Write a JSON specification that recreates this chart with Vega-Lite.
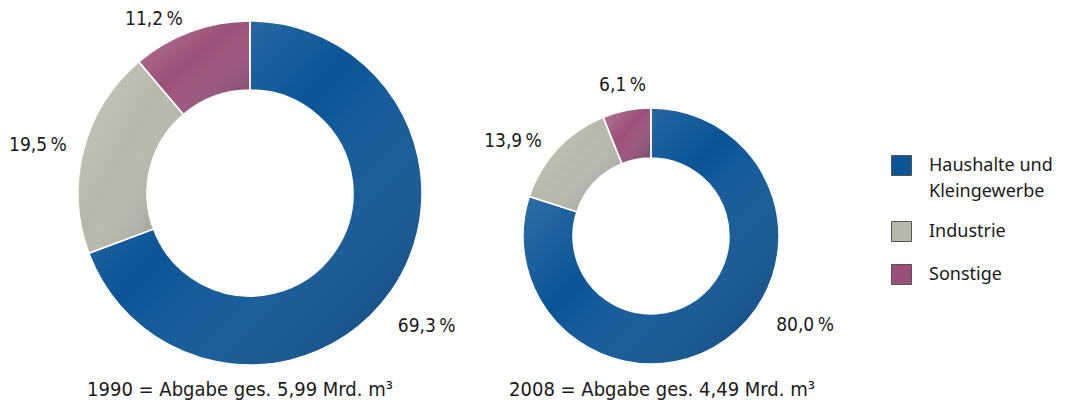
{
  "$schema": "https://vega.github.io/schema/vega-lite/v6.json",
  "width": 1065,
  "height": 407,
  "autosize": {"type": "none"},
  "padding": 0,
  "background": "white",
  "config": {"view": {"stroke": null}, "style": {"guide-label": {"lineHeight": 26}}},
  "datasets": {
    "anteile": [
      {"Jahr": "1990", "Sektor": "Haushalte und Kleingewerbe", "Anteil": 69.3, "Label": "69,3\u2009%"},
      {"Jahr": "1990", "Sektor": "Industrie", "Anteil": 19.5, "Label": "19,5\u2009%"},
      {"Jahr": "1990", "Sektor": "Sonstige", "Anteil": 11.2, "Label": "11,2\u2009%"},
      {"Jahr": "2008", "Sektor": "Haushalte und Kleingewerbe", "Anteil": 80.0, "Label": "80,0\u2009%"},
      {"Jahr": "2008", "Sektor": "Industrie", "Anteil": 13.9, "Label": "13,9\u2009%"},
      {"Jahr": "2008", "Sektor": "Sonstige", "Anteil": 6.1, "Label": "6,1\u2009%"}
    ],
    "abgabe": [
      {"Jahr": "1990", "Text": "1990 = Abgabe ges. 5,99 Mrd. m³"},
      {"Jahr": "2008", "Text": "2008 = Abgabe ges. 4,49 Mrd. m³"}
    ]
  },
  "encoding": {
    "x": {"field": "Jahr", "type": "nominal", "axis": null, "scale": {"type": "point", "domain": ["1990", "2008"], "range": [250, 651], "padding": 0}},
    "y": {"field": "Jahr", "type": "nominal", "axis": null, "scale": {"type": "point", "domain": ["1990", "2008"], "range": [193, 236], "padding": 0}}
  },
  "layer": [
    {
      "data": {"name": "anteile"},
      "transform": [{"filter": "datum.Jahr === '1990'"}],
      "mark": {"type": "arc", "innerRadius": 103, "outerRadius": 172},
      "encoding": {
        "theta": {"field": "Anteil", "type": "quantitative", "stack": true},
        "order": {"field": "Sektor", "type": "ordinal"},
        "color": {
          "field": "Sektor",
          "type": "nominal",
          "scale": {
            "domain": ["Haushalte und Kleingewerbe", "Industrie", "Sonstige"],
            "range": ["#0a5596", "#b8b8aa", "#9c5079"]
          },
          "legend": {
            "title": null,
            "orient": "none",
            "legendX": 891,
            "legendY": 155,
            "symbolType": "square",
            "symbolSize": 400,
            "symbolOpacity": 1,
            "symbolStrokeColor": "#555555",
            "symbolStrokeWidth": 1,
            "labelFont": "Noto Sans",
            "labelFontSize": 18,
            "labelColor": "#1a1a1a",
            "labelOffset": 17,
            "labelLimit": 300,
            "labelBaseline": "middle",
            "rowPadding": 18,
            "labelExpr": "datum.label === 'Haushalte und Kleingewerbe' ? ['Haushalte und', 'Kleingewerbe'] : datum.label"
          }
        }
      }
    },
    {
      "data": {"name": "anteile"},
      "transform": [{"filter": "datum.Jahr === '1990'"}],
      "mark": {
        "type": "arc", "innerRadius": 103, "outerRadius": 172, "stroke": "white", "strokeWidth": 1.5,
        "fill": {"gradient": "linear", "x1": 0, "y1": 0, "x2": 1, "y2": 1, "stops": [{"offset": 0, "color": "rgba(255,255,255,0.24)"}, {"offset": 0.45, "color": "rgba(255,255,255,0)"}, {"offset": 1, "color": "rgba(0,20,50,0.32)"}]}
      },
      "encoding": {
        "theta": {"field": "Anteil", "type": "quantitative", "stack": true},
        "detail": {"field": "Sektor", "type": "nominal"},
        "order": {"field": "Sektor", "type": "ordinal"}
      }
    },
    {
      "data": {"name": "anteile"},
      "transform": [{"filter": "datum.Jahr === '1990'"}],
      "mark": {
        "type": "text", "radius": 215, "align": "center", "baseline": "middle",
        "font": "DejaVu Sans Condensed, sans-serif", "fontSize": 19, "color": "#1a1a1a",
        "dx": {"expr": "datum.Sektor === 'Sonstige' ? -22 : datum.Sektor === 'Industrie' ? -4 : 0"},
        "dy": {"expr": "datum.Sektor === 'Sonstige' ? 28 : datum.Sektor === 'Industrie' ? 6 : 10"}
      },
      "encoding": {
        "theta": {"field": "Anteil", "type": "quantitative", "stack": true},
        "detail": {"field": "Sektor", "type": "nominal"},
        "order": {"field": "Sektor", "type": "ordinal"},
        "text": {"field": "Label", "type": "nominal"}
      }
    },
    {
      "data": {"name": "anteile"},
      "transform": [{"filter": "datum.Jahr === '2008'"}],
      "mark": {"type": "arc", "innerRadius": 78, "outerRadius": 128},
      "encoding": {
        "theta": {"field": "Anteil", "type": "quantitative", "stack": true},
        "order": {"field": "Sektor", "type": "ordinal"},
        "color": {"field": "Sektor", "type": "nominal"}
      }
    },
    {
      "data": {"name": "anteile"},
      "transform": [{"filter": "datum.Jahr === '2008'"}],
      "mark": {
        "type": "arc", "innerRadius": 78, "outerRadius": 128, "stroke": "white", "strokeWidth": 1.5,
        "fill": {"gradient": "linear", "x1": 0, "y1": 0, "x2": 1, "y2": 1, "stops": [{"offset": 0, "color": "rgba(255,255,255,0.24)"}, {"offset": 0.45, "color": "rgba(255,255,255,0)"}, {"offset": 1, "color": "rgba(0,20,50,0.32)"}]}
      },
      "encoding": {
        "theta": {"field": "Anteil", "type": "quantitative", "stack": true},
        "detail": {"field": "Sektor", "type": "nominal"},
        "order": {"field": "Sektor", "type": "ordinal"}
      }
    },
    {
      "data": {"name": "anteile"},
      "transform": [{"filter": "datum.Jahr === '2008'"}],
      "mark": {
        "type": "text", "radius": 160, "align": "center", "baseline": "middle",
        "font": "DejaVu Sans Condensed, sans-serif", "fontSize": 19, "color": "#1a1a1a",
        "dx": {"expr": "datum.Sektor === 'Sonstige' ? 2 : datum.Sektor === 'Industrie' ? -21 : 60"},
        "dy": {"expr": "datum.Sektor === 'Sonstige' ? 6 : datum.Sektor === 'Industrie' ? 14 : -40"}
      },
      "encoding": {
        "theta": {"field": "Anteil", "type": "quantitative", "stack": true},
        "detail": {"field": "Sektor", "type": "nominal"},
        "order": {"field": "Sektor", "type": "ordinal"},
        "text": {"field": "Label", "type": "nominal"}
      }
    },
    {
      "data": {"name": "abgabe"},
      "mark": {
        "type": "text", "align": "center", "baseline": "middle",
        "font": "DejaVu Sans Condensed, sans-serif", "fontSize": 20, "color": "#1a1a1a",
        "dx": {"expr": "datum.Jahr === '1990' ? -10 : 11"},
        "dy": {"expr": "datum.Jahr === '1990' ? 197 : 154"}
      },
      "encoding": {
        "text": {"field": "Text", "type": "nominal"}
      }
    }
  ]
}
